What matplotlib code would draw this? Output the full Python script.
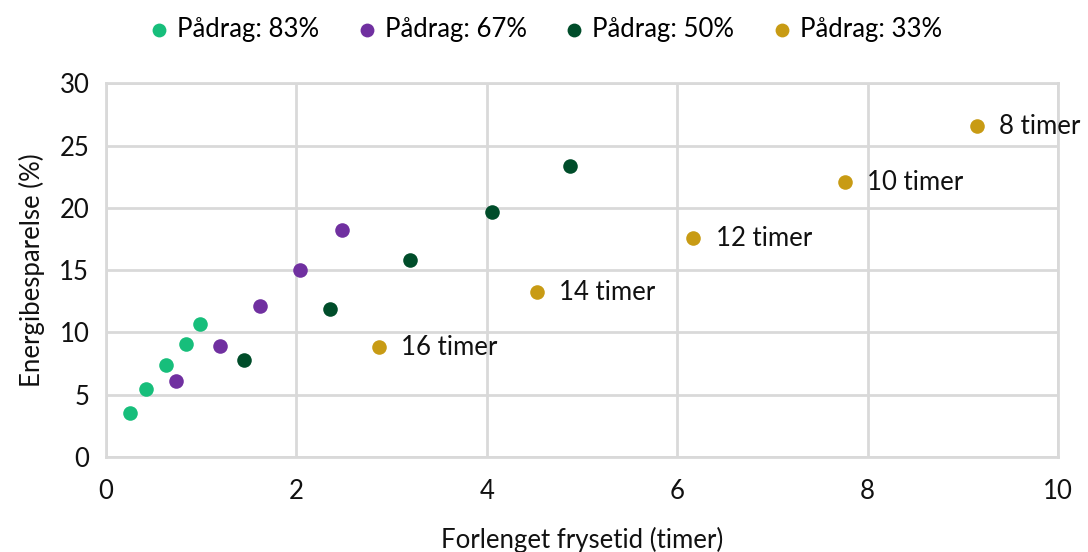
import matplotlib.pyplot as plt

plt.rcParams['font.family'] = ['Lato', 'DejaVu Sans']

# Extended freezing time (hours) vs energy saving (%) per load level
x_83 = [0.25, 0.42, 0.63, 0.84, 0.99]
y_83 = [3.5, 5.45, 7.35, 9.1, 10.7]
x_67 = [0.735, 1.20, 1.62, 2.04, 2.48]
y_67 = [6.1, 8.95, 12.15, 15.0, 18.25]
x_50 = [1.45, 2.35, 3.19, 4.05, 4.87]
y_50 = [7.8, 11.85, 15.85, 19.7, 23.4]
x_33 = [2.87, 4.53, 6.17, 7.76, 9.15]
y_33 = [8.8, 13.25, 17.55, 22.05, 26.55]
labels_33 = ['16 timer', '14 timer', '12 timer', '10 timer', '8 timer']

series = [
    ('Pådrag: 83%', x_83, y_83, '#17BE7B'),
    ('Pådrag: 67%', x_67, y_67, '#7030A0'),
    ('Pådrag: 50%', x_50, y_50, '#004D2A'),
    ('Pådrag: 33%', x_33, y_33, '#C89B14'),
]

fs = 18.5

fig = plt.figure(figsize=(10.88, 5.52), dpi=100)
ax = fig.add_axes([0.0974, 0.172, 0.875, 0.677])

for name, xs, ys, col in series:
    ax.scatter(xs, ys, s=110, color=col, label=name, zorder=3, linewidths=0)

for xv, yv, txt in zip(x_33, y_33, labels_33):
    ax.annotate(txt, (xv, yv), xytext=(16, 0), textcoords='offset points',
                va='center', ha='left', fontsize=fs, color='#111111')

ax.set_xlim(0, 10)
ax.set_ylim(0, 30)
ax.set_xticks(range(0, 11, 2))
ax.set_yticks(range(0, 31, 5))
ax.grid(True, color='#D9D9D9', linewidth=2)
ax.set_axisbelow(True)
for s in ax.spines.values():
    s.set_color('#D9D9D9')
    s.set_linewidth(2)
ax.tick_params(axis='x', length=0, labelsize=fs, pad=16, colors='#111111')
ax.tick_params(axis='y', length=0, labelsize=fs, pad=12, colors='#111111')

ax.set_xlabel('Forlenget frysetid (timer)', fontsize=fs, labelpad=16, color='#111111')
ax.set_ylabel('Energibesparelse (%)', fontsize=fs, labelpad=10, color='#111111')

fig.legend(loc='upper center', bbox_to_anchor=(0.5, 1.012), ncol=4, frameon=False,
           fontsize=fs, handletextpad=0.2, handlelength=1.0, columnspacing=1.35,
           markerscale=0.95)

fig.savefig('out.png', dpi=100)
